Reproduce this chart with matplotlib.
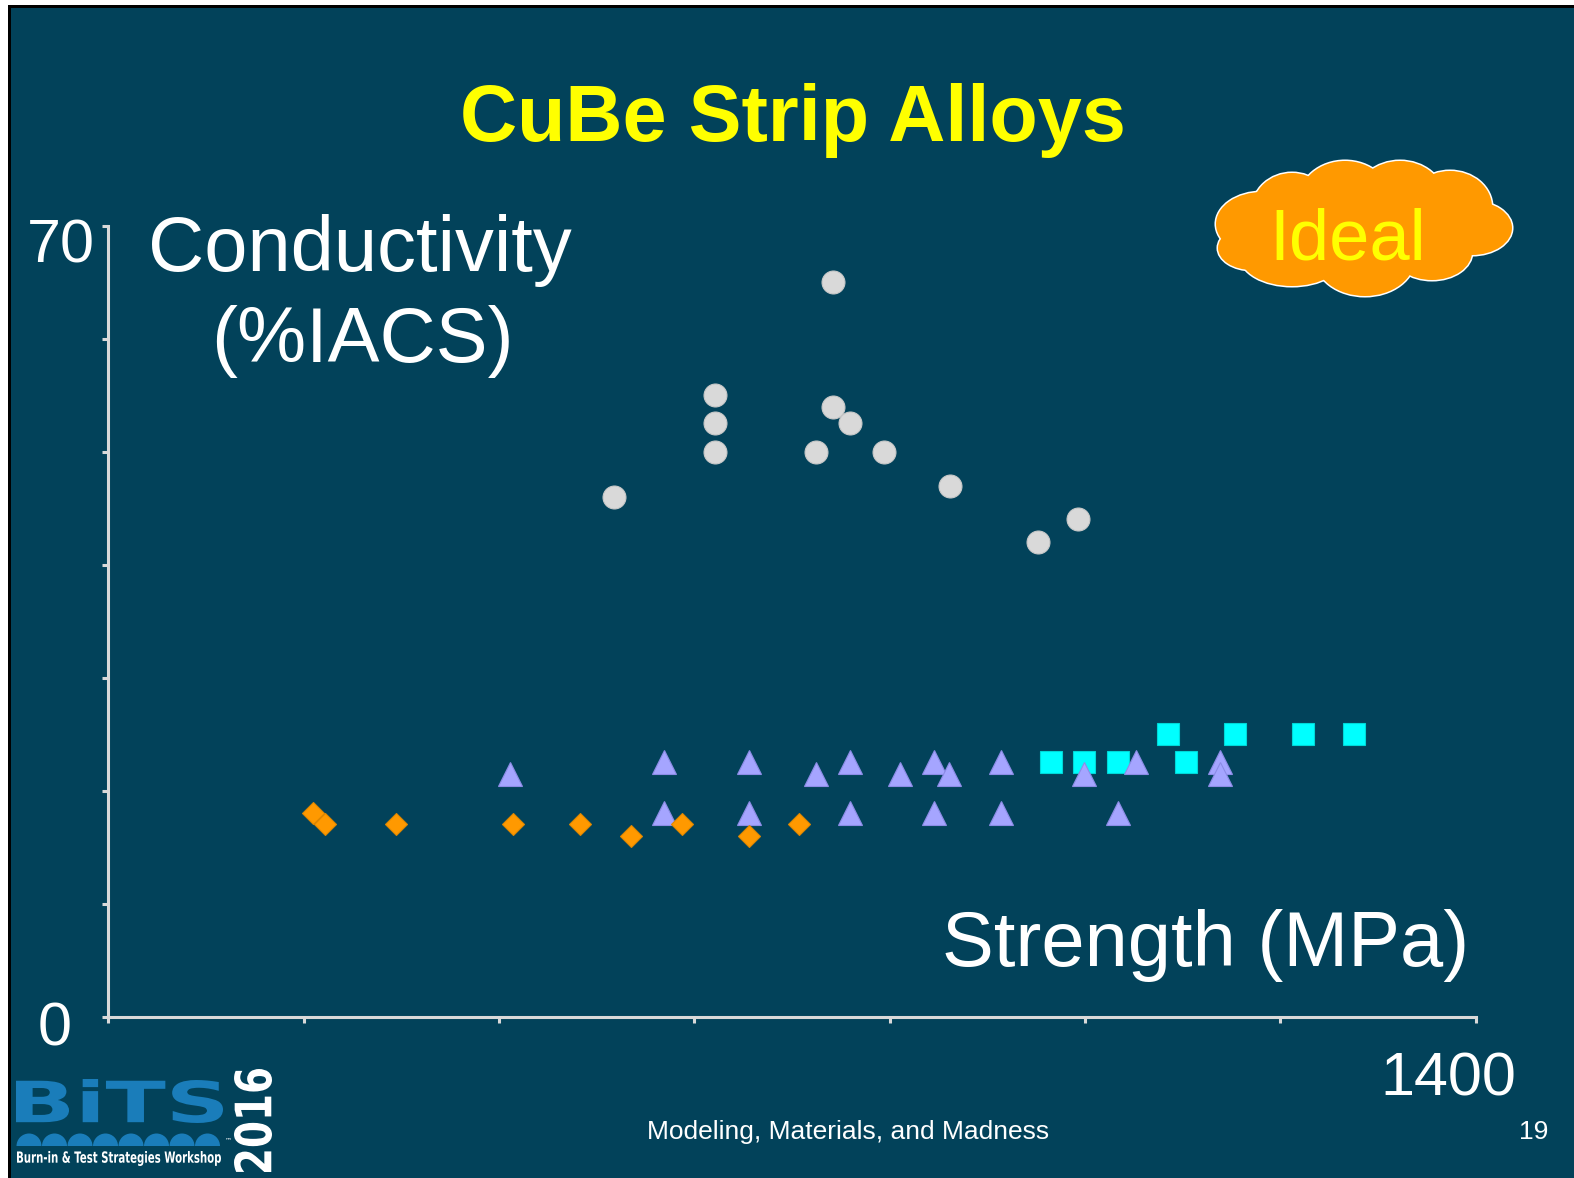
import matplotlib
matplotlib.use("Agg")
from matplotlib import pyplot as plt
from matplotlib.patches import Ellipse, Rectangle, Wedge, PathPatch
from matplotlib.textpath import TextPath
from matplotlib.font_manager import FontProperties
from matplotlib.transforms import Affine2D

# conductivity (%IACS) vs strength (MPa) per alloy family
grey_x = [518, 621, 621, 621, 742, 742, 759, 725, 794, 862, 952, 993]
grey_y = [46, 55, 52.5, 50, 65, 54, 52.5, 50, 50, 47, 42, 44]

cyan_x = [965, 999, 1034, 1085, 1103, 1154, 1223, 1275]
cyan_y = [22.5, 22.5, 22.5, 25, 22.5, 25, 25, 25]

lilac_x = [411, 569, 569, 656, 656, 725, 759, 759, 811, 845, 845, 861,
           914, 914, 999, 1034, 1052, 1138, 1138]
lilac_y = [21.5, 22.5, 18, 22.5, 18, 21.5, 22.5, 18, 21.5, 22.5, 18, 21.5,
           22.5, 18, 21.5, 18, 22.5, 22.5, 21.5]

orange_x = [209, 222, 295, 414, 483, 535, 587, 656, 707]
orange_y = [18, 17, 17, 17, 17, 16, 17, 16, 17]

x_ticks = [0, 200, 400, 600, 800, 1000, 1200, 1400]
y_ticks = [0, 10, 20, 30, 40, 50, 60, 70]

BG = "#02425A"
FONT = "Liberation Sans"
W, H = 1574, 1178

fig = plt.figure(figsize=(W / 100, H / 100), dpi=100)
fig.patch.set_facecolor("white")

# pixel-space layer for the slide frame, cloud and logo
bg = fig.add_axes([0, 0, 1, 1], zorder=0)
bg.set_xlim(0, W)
bg.set_ylim(H, 0)
bg.axis("off")
bg.add_patch(Rectangle((8, 5), W, H, facecolor="black", edgecolor="none"))
bg.add_patch(Rectangle((11, 8), W, H, facecolor=BG, edgecolor="none"))


def boxed_text(ax, s, box, color, rotate=False, weight="bold"):
    """Stretch a string so its glyphs fill box = (x0, y0, x1, y1) in pixels."""
    tp = TextPath((0, 0), s, size=10,
                  prop=FontProperties(family="DejaVu Sans", weight=weight))
    ext = tp.get_extents()
    x0, y0, x1, y1 = box
    t = Affine2D().translate(-ext.x0, -ext.y0)
    w, h = ext.width, ext.height
    if rotate:
        t = t.rotate_deg(90).translate(ext.height, 0)
        w, h = ext.height, ext.width
    t = t.scale((x1 - x0) / w, -(y1 - y0) / h).translate(x0, y1)
    ax.add_patch(PathPatch(t.transform_path(tp), facecolor=color,
                           edgecolor="none"))


# "Ideal" cloud: outlined lobes, then the same lobes filled over the seams
lobes = [(1262, 224, 46, 32), (1292, 210, 40, 37), (1345, 200, 46, 39),
         (1400, 198, 44, 37), (1450, 207, 42, 36), (1472, 228, 40, 27),
         (1432, 252, 40, 28), (1365, 258, 50, 38), (1292, 256, 52, 30),
         (1252, 248, 34, 22), (1362, 230, 115, 45)]
for cx, cy, rx, ry in lobes:
    bg.add_patch(Ellipse((cx, cy), 2 * rx, 2 * ry, facecolor="#FF9900",
                         edgecolor="white", lw=2.2, zorder=2))
for cx, cy, rx, ry in lobes:
    bg.add_patch(Ellipse((cx, cy), 2 * rx, 2 * ry, facecolor="#FF9900",
                         edgecolor="none", zorder=3))
bg.text(1348, 259, "Ideal", color="#FFFF00", fontsize=52, family=FONT,
        ha="center", va="baseline", zorder=4)

# BiTS 2016 logo
logo_blue = "#1A7DBA"
boxed_text(bg, "BiTS", (16, 1079, 223, 1123), logo_blue)
for i in range(8):
    cx = 29 + i * 25.5
    bg.add_patch(Wedge((cx, 1146), 12.5, 180, 360, facecolor=logo_blue,
                       edgecolor="none"))
boxed_text(bg, "Burn-in & Test Strategies Workshop", (17, 1151, 221, 1166),
           "white")
bg.text(225, 1142, "™", color="white", fontsize=5, family="DejaVu Sans")
boxed_text(bg, "2016", (234, 1069, 272, 1172), "white", rotate=True)

# chart
ax = fig.add_axes([108.4 / W, (H - 1016.5) / H, 1367.2 / W, 790.7 / H],
                  zorder=1)
ax.set_facecolor("none")
ax.set_xlim(0, 1400)
ax.set_ylim(0, 70)
for side in ("top", "right"):
    ax.spines[side].set_visible(False)
for side in ("left", "bottom"):
    ax.spines[side].set_color("#D9D9D9")
    ax.spines[side].set_linewidth(2.2)
ax.set_xticks(x_ticks)
ax.set_yticks(y_ticks)
ax.tick_params(colors="#D9D9D9", length=4, width=2.2, labelbottom=False,
               labelleft=False)

ax.plot(grey_x, grey_y, "o", ms=16.5, color="#D9D9D9", mec="#C8C8C8",
        mew=0.8, clip_on=False)
ax.plot(cyan_x, cyan_y, "s", ms=15.5, color="#00FFFF", mec="#00D8D8",
        mew=0.8, clip_on=False)
ax.plot(lilac_x, lilac_y, "^", ms=17, color="#A5A5FF", mec="#8C8CE6",
        mew=0.8, clip_on=False)
ax.plot(orange_x, orange_y, "D", ms=11.5, color="#FF9900", mec="#E08800",
        mew=0.8, clip_on=False)

# titles and axis labels
fig.text(793 / W, 1 - 140.5 / H, "CuBe Strip Alloys", color="#FFFF00",
         fontsize=57, fontweight="bold", family=FONT, ha="center",
         va="baseline")
fig.text(148.5 / W, 1 - 271 / H, "Conductivity", color="white", fontsize=56,
         family=FONT, ha="left", va="baseline")
fig.text(211 / W, 1 - 362 / H, "(%IACS)", color="white", fontsize=56,
         family=FONT, ha="left", va="baseline")
fig.text(1469 / W, 1 - 966 / H, "Strength (MPa)", color="white", fontsize=56,
         family=FONT, ha="right", va="baseline")

# end labels of the axes
fig.text(27 / W, 1 - 263 / H, "70", color="white", fontsize=44, family=FONT,
         ha="left", va="baseline")
fig.text(38 / W, 1 - 1046 / H, "0", color="white", fontsize=44, family=FONT,
         ha="left", va="baseline")
fig.text(1516 / W, 1 - 1095 / H, "1400", color="white", fontsize=44,
         family=FONT, ha="right", va="baseline")

# footer
fig.text(647 / W, 1 - 1139 / H, "Modeling, Materials, and Madness",
         color="white", fontsize=19, family=FONT, ha="left", va="baseline")
fig.text(1548 / W, 1 - 1139 / H, "19", color="white", fontsize=19,
         family=FONT, ha="right", va="baseline")

fig.savefig("out.png", dpi=100, facecolor=fig.get_facecolor())
